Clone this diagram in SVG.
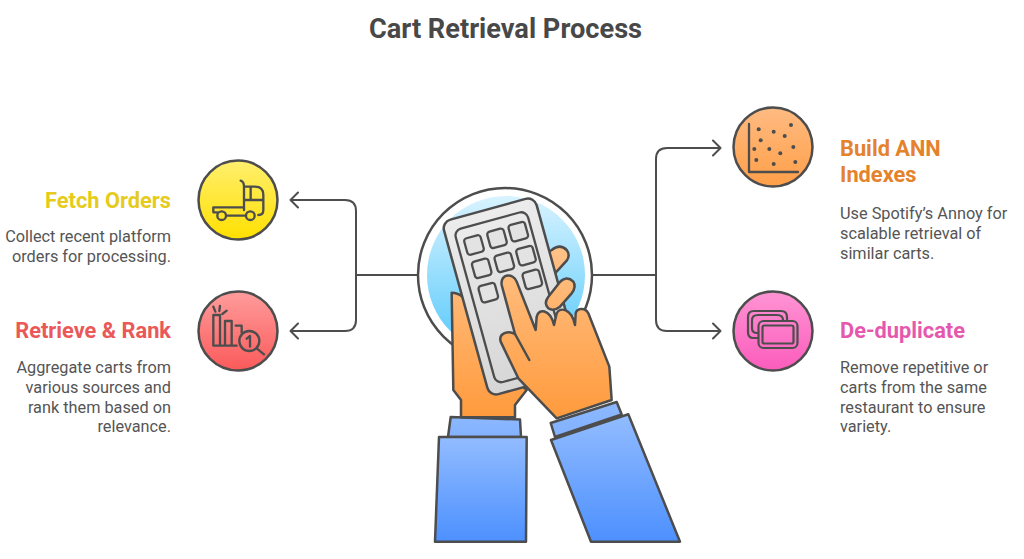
<svg xmlns="http://www.w3.org/2000/svg" width="1024" height="559" viewBox="0 0 1024 559">
<style>
.o{stroke:#4d4d4d;stroke-width:2.5;stroke-linejoin:round;stroke-linecap:round}
.big{stroke:#4d4d4d;stroke-width:7.5;stroke-linejoin:round;stroke-linecap:round}
.ic{fill:none;stroke:#4d4d4d;stroke-width:7;stroke-linejoin:round;stroke-linecap:round}
.c{fill:none;stroke:#4d4d4d;stroke-width:2;stroke-linecap:round;stroke-linejoin:round}
.key{fill:#e3e3e3;stroke:#4d4d4d;stroke-width:2.3}
text{font-family:Roboto,"Liberation Sans",sans-serif}
.t{font-size:27.2px;font-weight:700;fill:#484848;text-anchor:middle}
.h{font-size:21.8px;font-weight:700}
.d{font-size:16.3px;fill:#555}
.e{text-anchor:end}
</style>
<defs>
<linearGradient id="gy" x1="0" y1="0" x2="0" y2="1"><stop offset="0" stop-color="#ffef6e"/><stop offset="1" stop-color="#ffe000"/></linearGradient>
<linearGradient id="gr" x1="0" y1="0" x2="0" y2="1"><stop offset="0" stop-color="#ff9c9c"/><stop offset="1" stop-color="#fb5a5a"/></linearGradient>
<linearGradient id="go" x1="0" y1="0" x2="0" y2="1"><stop offset="0" stop-color="#ffbb82"/><stop offset="1" stop-color="#ff9f48"/></linearGradient>
<linearGradient id="gp" x1="0" y1="0" x2="0" y2="1"><stop offset="0" stop-color="#ff94d4"/><stop offset="1" stop-color="#fb5cbc"/></linearGradient>
<linearGradient id="gb" x1="0" y1="0" x2="0" y2="1"><stop offset="0" stop-color="#d8f3ff"/><stop offset="1" stop-color="#55c8fb"/></linearGradient>
<linearGradient id="gh" gradientUnits="userSpaceOnUse" x1="0" y1="190" x2="0" y2="720"><stop offset="0" stop-color="#ffc38a"/><stop offset="1" stop-color="#ff9a3c"/></linearGradient>
<linearGradient id="gs" x1="0" y1="0" x2="0" y2="1"><stop offset="0" stop-color="#92bcff"/><stop offset="1" stop-color="#4d90fe"/></linearGradient>
<linearGradient id="gc" x1="0" y1="0" x2="0" y2="1"><stop offset="0" stop-color="#8cb8ff"/><stop offset="1" stop-color="#83b1ff"/></linearGradient>
<linearGradient id="gk" x1="0" y1="0" x2="0" y2="1"><stop offset="0" stop-color="#ececec"/><stop offset="1" stop-color="#d6d6d6"/></linearGradient>
</defs>
<text class="t" x="505.500" y="37.500">Cart Retrieval Process</text>
<g id="connectors" class="c">
<path d="M418 275H356M356 275V211Q356 200 345 200H291M298 192.500L290.500 200L298 207.500"/>
<path d="M356 275V320Q356 331 345 331H291M298 323.500L290.500 331L298 338.500"/>
<path d="M592 275H656M656 275V159Q656 148 667 148H720M713 140.500L720.500 148L713 155.500"/>
<path d="M656 275V320Q656 331 667 331H720M713 323.500L720.500 331L713 338.500"/>
</g>
<g id="center">
<circle cx="505" cy="275" r="87" fill="#fff" stroke="#4d4d4d" stroke-width="2.500"/>
<circle cx="506" cy="275" r="79" fill="url(#gb)"/>
<g id="sleeves">
<path class="o" fill="url(#gc)" d="M450.700 417L520 419.500L521 437H448Z"/>
<path class="o" fill="url(#gs)" d="M439 437H526.700L526 541.700H435Z"/>
<path class="o" fill="url(#gc)" d="M550.700 423L616.700 402L621.700 414.500L555 437Z"/>
<path class="o" fill="url(#gs)" d="M551 440L628.300 414.300L680 541.700H591Z"/>
</g>
<g transform="translate(400 180) scale(.33333)">
<path class="big" fill="url(#gh)" d="M155 338Q190 338 212 385L240 500L380 630L345 675V712L183 712V660L160 630Z"/>
<path class="big" fill="url(#gh)" d="M455 210Q480 190 500 210Q512 225 500 242L465 280L440 220Z"/>
</g>
<g transform="translate(512 296.500) rotate(-15.400)">
<rect x="-48" y="-90.500" width="96" height="181" rx="9" fill="url(#gk)" stroke="#4d4d4d" stroke-width="2.500"/>
<rect x="-38.500" y="-79" width="75" height="159" rx="7" fill="none" stroke="#4d4d4d" stroke-width="2.300"/>
</g>
<g>
<rect class="key" x="465.500" y="236.500" width="17" height="17" rx="3" transform="rotate(-15.400 474 245)"/>
<rect class="key" x="488.500" y="229.800" width="17" height="17" rx="3" transform="rotate(-15.400 497 238.300)"/>
<rect class="key" x="509.800" y="223.200" width="17" height="17" rx="3" transform="rotate(-15.400 518.300 231.700)"/>
<rect class="key" x="473.200" y="259.800" width="17" height="17" rx="3" transform="rotate(-15.400 481.700 268.300)"/>
<rect class="key" x="495.800" y="253.800" width="17" height="17" rx="3" transform="rotate(-15.400 504.300 262.300)"/>
<rect class="key" x="517.500" y="247.200" width="17" height="17" rx="3" transform="rotate(-15.400 526 255.700)"/>
<rect class="key" x="479.800" y="284.200" width="17" height="17" rx="3" transform="rotate(-15.400 488.300 292.700)"/>
<rect class="key" x="523.800" y="270.800" width="17" height="17" rx="3" transform="rotate(-15.400 532.300 279.300)"/>
</g>
<g transform="translate(400 180) scale(.33333)">
<path class="big" fill="url(#gh)" d="M445 385Q430 370 445 350L478 308Q500 285 520 305Q530 320 515 340L480 380Q460 395 445 385Z"/>
<path class="big" fill="url(#gh)" d="M407 450L350 305C340 278 300 280 305 315L345 462C325 450 295 460 302 485L355 595L470 715L635 660L628 560L565 400C555 380 530 385 527 400L525 435C515 385 480 380 470 400L462 435C450 385 415 385 410 410Z"/>
<path class="big" fill="none" d="M345 462L388 540"/>
</g>
</g>
<g id="fetch-orders">
<circle cx="238" cy="200" r="39.500" fill="url(#gy)" stroke="#4d4d4d" stroke-width="2.500"/>
<g transform="translate(190 150) scale(.33333)">
<path class="ic" d="M152 92Q162 95 162 110V180M162 110H195Q220 110 220 135V180Q220 195 205 195M162 150H220M182 110V150M70 187V172H162M112 197H165M82 187H70"/>
<circle class="ic" cx="95" cy="197" r="13"/><circle class="ic" cx="181" cy="197" r="13"/>
</g>
<text class="h e" x="171" y="208" fill="#e6cb1c">Fetch Orders</text>
<text class="d e" x="171" y="242">Collect recent platform</text>
<text class="d e" x="171" y="262">orders for processing.</text>
</g>
<g id="retrieve-rank">
<circle cx="238" cy="331" r="39.500" fill="url(#gr)" stroke="#4d4d4d" stroke-width="2.500"/>
<g transform="translate(190 150) scale(.33333)">
<path class="ic" d="M70 587V495H90V587M70 587H140M105 587V513H125V587M137 527H155V548M70 470L76 485M90 468L88 483M110 482L97 492"/>
<circle class="ic" cx="178" cy="573" r="30"/>
<path class="ic" d="M200 595L222 613M170 566L180 558V590"/>
</g>
<text class="h e" x="171" y="338" fill="#ea5858">Retrieve &amp; Rank</text>
<text class="d e" x="171" y="373">Aggregate carts from</text>
<text class="d e" x="171" y="393">various sources and</text>
<text class="d e" x="171" y="413">rank them based on</text>
<text class="d e" x="171" y="432">relevance.</text>
</g>
<g id="build-ann">
<circle cx="773" cy="147" r="39.500" fill="url(#go)" stroke="#4d4d4d" stroke-width="2.500"/>
<path fill="none" stroke="#4d4d4d" stroke-width="2.300" stroke-linecap="round" stroke-linejoin="round" d="M749 124V172H798"/>
<g fill="#4d4d4d">
<circle cx="758.700" cy="129.300" r="2"/><circle cx="773.700" cy="131.700" r="2"/><circle cx="791" cy="125" r="2"/><circle cx="784.700" cy="136" r="2"/><circle cx="760.700" cy="140.300" r="2"/><circle cx="754.300" cy="149" r="2"/><circle cx="769.300" cy="149" r="2"/><circle cx="780.300" cy="153.300" r="2"/><circle cx="793.300" cy="147" r="2"/><circle cx="756.300" cy="160" r="2"/><circle cx="773.700" cy="164" r="2"/><circle cx="795.300" cy="162" r="2"/>
</g>
<text class="h" x="840" y="156" fill="#e5822c">Build ANN</text>
<text class="h" x="840" y="182" fill="#e5822c">Indexes</text>
<text class="d" x="840" y="219">Use Spotify’s Annoy for</text>
<text class="d" x="840" y="239">scalable retrieval of</text>
<text class="d" x="840" y="259">similar carts.</text>
</g>
<g id="de-duplicate">
<circle cx="773" cy="331" r="39.500" fill="url(#gp)" stroke="#4d4d4d" stroke-width="2.500"/>
<g fill="none" stroke="#4d4d4d" stroke-width="2.200" stroke-linecap="round" stroke-linejoin="round">
<path d="M758 338H753Q748 338 748 332V317Q748 311 754 311H781Q787 311 787 317V320"/>
<path d="M758 333H757Q752 333 752 328V320Q752 315 758 315H777Q783 315 783 320"/>
<rect x="758.500" y="321" width="39" height="27" rx="5"/>
<rect x="762.500" y="325.500" width="31" height="18" rx="2"/>
</g>
<text class="h" x="840" y="338" fill="#e558ae">De-duplicate</text>
<text class="d" x="840" y="373">Remove repetitive or</text>
<text class="d" x="840" y="393">carts from the same</text>
<text class="d" x="840" y="413">restaurant to ensure</text>
<text class="d" x="840" y="432">variety.</text>
</g>
</svg>
